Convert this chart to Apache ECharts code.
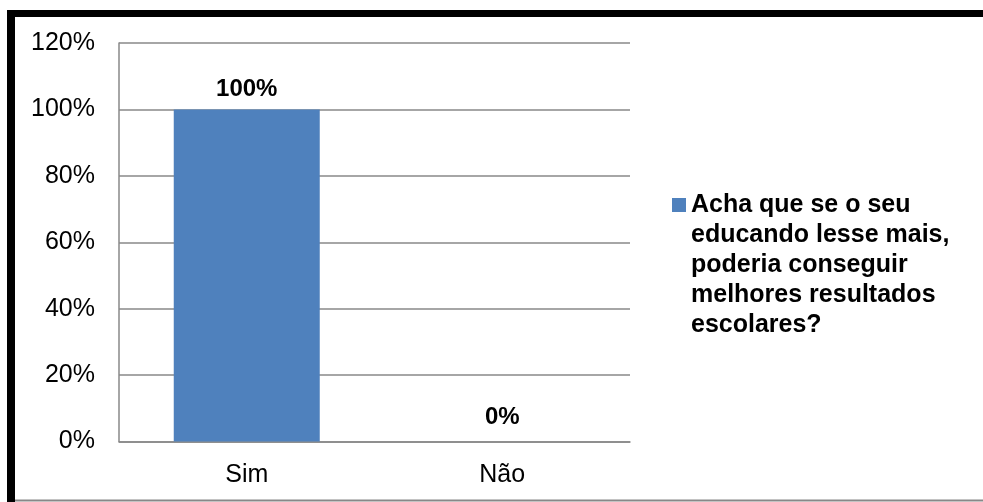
<!DOCTYPE html>
<html>
<head>
<meta charset="utf-8">
<script src="https://cdn.jsdelivr.net/npm/echarts@6/dist/echarts.min.js"></script>
<style>
html,body{margin:0;padding:0;background:#fff;}
#c{width:983px;height:502px;}
</style>
</head>
<body>
<div id="c"></div>
<script>
const categories = ['Sim', 'Não'];
const seriesName = 'Acha que se o seu\neducando lesse mais,\npoderia conseguir\nmelhores resultados\nescolares?';
const values = [100, 0];
const yTicks = { min: 0, max: 120, interval: 20 };

const chart = echarts.init(document.getElementById('c'), null, { renderer: 'canvas' });
const FONT = '"Liberation Sans", Arial, sans-serif';

const option = {
  animation: false,
  backgroundColor: '#ffffff',
  grid: { left: 119, right: 353, top: 43, bottom: 60.5 },
  xAxis: {
    type: 'category',
    data: categories,
    axisLine: { show: true, lineStyle: { color: '#888888', width: 1.5 } },
    axisTick: { show: false },
    axisLabel: { color: '#000', fontFamily: FONT, fontSize: 25, margin: 21 }
  },
  yAxis: {
    type: 'value',
    min: yTicks.min, max: yTicks.max, interval: yTicks.interval,
    axisLine: { show: true, lineStyle: { color: '#888888', width: 1.5 } },
    axisTick: { show: false },
    splitLine: { show: true, lineStyle: { color: '#888888', width: 1.5 } },
    axisLabel: { color: '#000', fontFamily: FONT, fontSize: 25, margin: 24, formatter: v => v + '%' }
  },
  legend: {
    show: true,
    orient: 'vertical',
    left: 672,
    top: 70,
    padding: 0,
    itemWidth: 14,
    itemHeight: 14,
    itemGap: 0,
    icon: 'rect',
    formatter: name => '\n\n\n\n' + name,
    textStyle: {
      color: '#000', fontFamily: FONT, fontSize: 25, fontWeight: 'bold',
      lineHeight: 30
    },
    data: [seriesName]
  },
  series: [{
    name: seriesName,
    type: 'bar',
    data: values.map(v => ({ value: v, label: { distance: v === 0 ? 12 : 8 } })),
    barWidth: 146,
    itemStyle: { color: '#4F81BD' },
    label: {
      show: true, position: 'top',
      color: '#000', fontFamily: FONT, fontSize: 24, fontWeight: 'bold',
      formatter: p => p.value + '%'
    }
  }],
  graphic: [
    { type: 'rect', shape: { x: 7, y: 10, width: 976, height: 7 }, style: { fill: '#000' }, silent: true },
    { type: 'rect', shape: { x: 7, y: 10, width: 8, height: 492 }, style: { fill: '#000' }, silent: true },
    { type: 'rect', shape: { x: 15, y: 499.5, width: 968, height: 2 }, style: { fill: '#888888' }, silent: true }
  ]
};
chart.setOption(option);
</script>
</body>
</html>
